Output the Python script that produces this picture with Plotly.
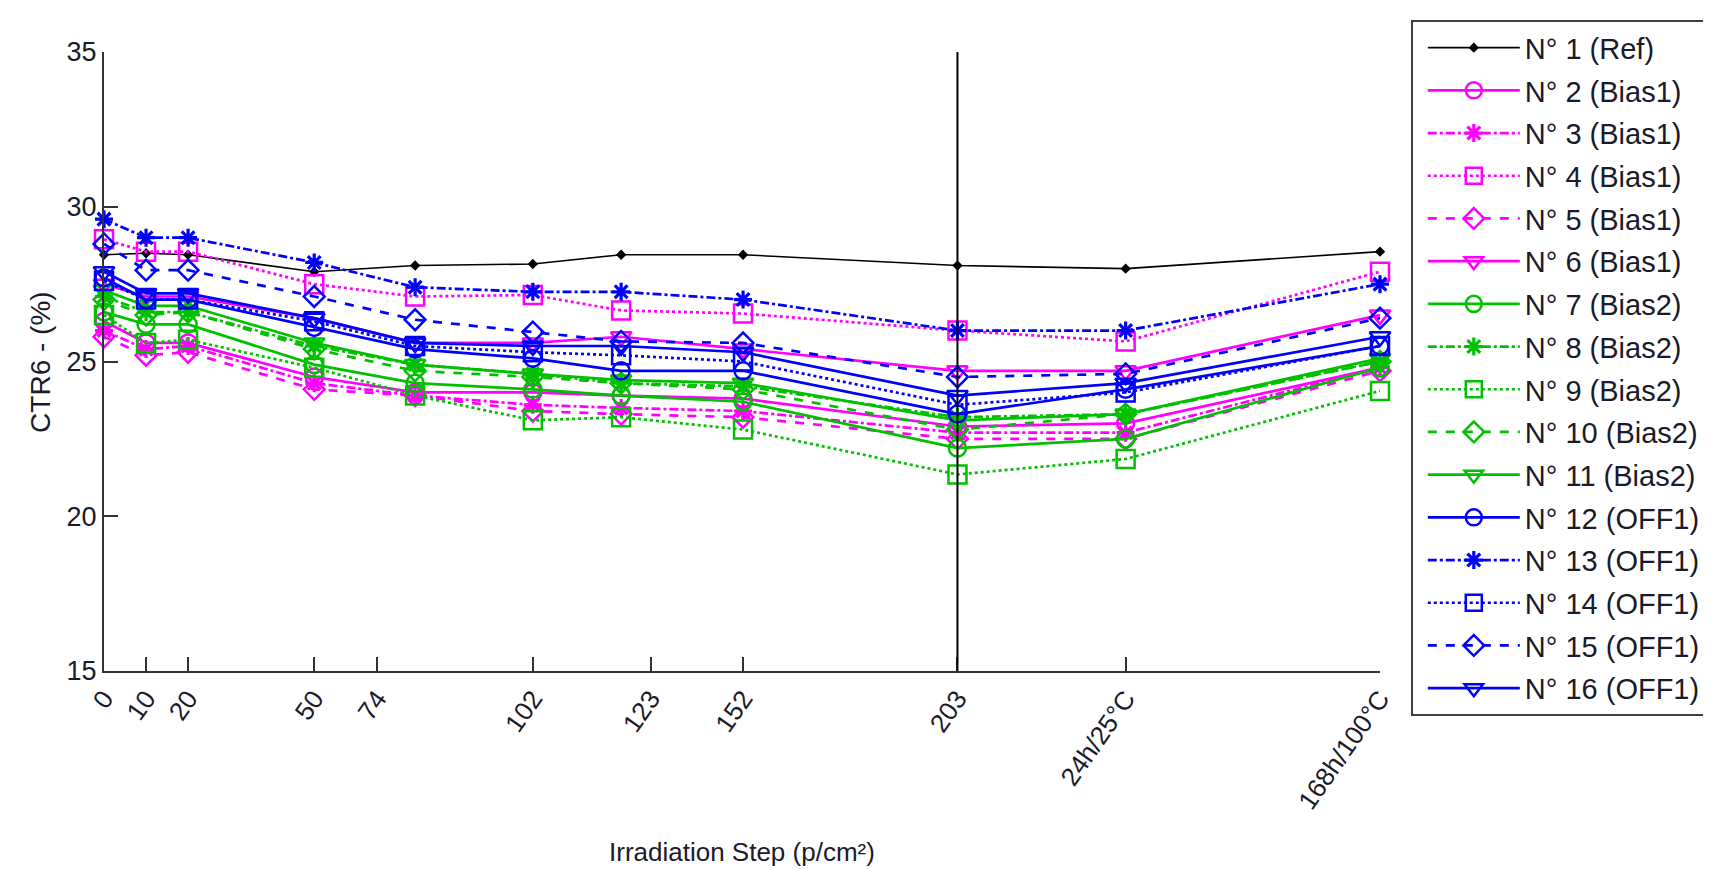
import plotly.graph_objects as go

# ---------------- data ----------------
step_x = [0, 10, 20, 50, 74, 102, 123, 152, 203, 243, 303.5]
tick_positions = [0, 10, 20, 50, 65, 102, 130, 152, 203, 243, 303.5]
tick_labels = ["0", "10", "20", "50", "74", "102", "123", "152", "203", "24h/25°C", "168h/100°C"]
separator_x = 203

names = ["N° 1 (Ref)", "N° 2 (Bias1)", "N° 3 (Bias1)", "N° 4 (Bias1)", "N° 5 (Bias1)",
         "N° 6 (Bias1)", "N° 7 (Bias2)", "N° 8 (Bias2)", "N° 9 (Bias2)", "N° 10 (Bias2)",
         "N° 11 (Bias2)", "N° 12 (OFF1)", "N° 13 (OFF1)", "N° 14 (OFF1)", "N° 15 (OFF1)",
         "N° 16 (OFF1)"]

n01 = [28.45, 28.5, 28.45, 27.9, 28.1, 28.15, 28.45, 28.45, 28.1, 28.0, 28.55]
n02 = [26.3, 25.6, 25.6, 24.5, 24.0, 24.0, 23.9, 23.8, 22.9, 23.0, 24.8]
n03 = [26.0, 25.4, 25.5, 24.3, 23.9, 23.6, 23.5, 23.4, 22.7, 22.7, 24.8]
n04 = [28.95, 28.55, 28.55, 27.5, 27.1, 27.15, 26.65, 26.55, 26.0, 25.65, 27.9]
n05 = [25.8, 25.2, 25.3, 24.1, 23.9, 23.4, 23.3, 23.2, 22.5, 22.5, 24.7]
n06 = [27.5, 27.1, 27.1, 26.4, 25.6, 25.6, 25.8, 25.4, 24.7, 24.7, 26.5]
n07 = [26.6, 26.2, 26.2, 24.9, 24.3, 24.1, 23.9, 23.7, 22.2, 22.5, 24.8]
n08 = [27.1, 26.6, 26.6, 25.5, 24.9, 24.6, 24.3, 24.2, 23.2, 23.3, 25.0]
n09 = [26.5, 25.6, 25.7, 24.8, 23.9, 23.1, 23.2, 22.8, 21.35, 21.85, 24.05]
n10 = [27.0, 26.5, 26.6, 25.4, 24.7, 24.5, 24.3, 24.1, 22.8, 23.3, 25.0]
n11 = [27.3, 26.8, 26.8, 25.6, 24.9, 24.6, 24.4, 24.3, 23.1, 23.3, 25.1]
n12 = [27.7, 27.0, 27.0, 26.1, 25.4, 25.1, 24.7, 24.7, 23.3, 24.1, 25.5]
n13 = [29.6, 29.0, 29.0, 28.2, 27.4, 27.25, 27.25, 27.0, 26.0, 26.0, 27.5]
n14 = [27.6, 27.0, 27.0, 26.3, 25.5, 25.3, 25.2, 25.0, 23.6, 24.0, 25.5]
n15 = [28.8, 27.95, 27.95, 27.1, 26.35, 25.95, 25.65, 25.6, 24.5, 24.6, 26.4]
n16 = [27.9, 27.2, 27.2, 26.4, 25.6, 25.5, 25.5, 25.3, 23.9, 24.3, 25.8]

series = [n01, n02, n03, n04, n05, n06, n07, n08, n09, n10, n11, n12, n13, n14, n15, n16]

# ---------------- styles ----------------
MAGENTA = "#FF00FF"
GREEN = "#00C000"
BLUE = "#0000FF"
group_colors = [MAGENTA, GREEN, BLUE]
pattern_dash = ["solid", "dashdot", "dot", "dash", "solid"]
pattern_symbol = ["circle-open", "asterisk-open", "square-open", "diamond-open", "triangle-down-open"]
pattern_size = [17, 15, 18, 16, 18]

FONT = "Liberation Sans, Arial, sans-serif"
TXT = "#1a1a2a"

fig = go.Figure()

for i, (name, vals) in enumerate(zip(names, series)):
    if i == 0:
        line = dict(color="black", width=1.6, dash="solid")
        marker = dict(symbol="diamond", size=8, color="black")
    else:
        g = (i - 1) // 5
        k = (i - 1) % 5
        col = group_colors[g]
        line = dict(color=col, width=2.7, dash=pattern_dash[k])
        sym = pattern_symbol[k]
        marker = dict(symbol=sym, size=pattern_size[k], color=col,
                      line=dict(color=col, width=3.2 if sym == "asterisk-open" else 2.5))
    fig.add_trace(go.Scatter(
        x=step_x, y=vals, name=name, mode="lines+markers",
        line=line, marker=marker, cliponaxis=False, legendgroup=name,
    ))

fig.add_shape(type="line", x0=separator_x, x1=separator_x, xref="x",
              y0=0, y1=1, yref="paper", line=dict(color="black", width=2), layer="above")

fig.update_layout(
    width=1711, height=869,
    margin=dict(l=96, r=331, t=38, b=206),
    paper_bgcolor="white", plot_bgcolor="white",
    font=dict(family=FONT, color=TXT, size=26),
    showlegend=True,
    legend=dict(
        x=(1411 - 96) / 1284, xanchor="left",
        y=(663 - 6) / 625, yanchor="top",
        bordercolor="#404040", borderwidth=2, bgcolor="white",
        font=dict(family=FONT, size=29, color=TXT),
        itemwidth=92, tracegroupgap=2, traceorder="grouped",
        indentation=10, maxheight=900,
    ),
)

fig.update_xaxes(
    range=[0, 303.5], showgrid=False, zeroline=False,
    showline=True, linecolor="#333333", linewidth=2, mirror=False,
    ticks="inside", ticklen=14, tickwidth=1.8, tickcolor="#333333",
    tickmode="array", tickvals=tick_positions, ticktext=tick_labels,
    tickangle=-55, tickfont=dict(family=FONT, size=26, color=TXT),
)
fig.update_yaxes(
    range=[15, 35], showgrid=False, zeroline=False,
    showline=True, linecolor="#333333", linewidth=2, mirror=False,
    ticks="inside", ticklen=14, tickwidth=1.8, tickcolor="#333333",
    tickvals=[15, 20, 25, 30, 35], tickfont=dict(family=FONT, size=27, color=TXT),
)

fig.add_annotation(text="Irradiation Step (p/cm²)", xref="paper", yref="paper",
                   x=0.5, y=(663 - 846) / 625, xanchor="center", yanchor="middle",
                   showarrow=False, font=dict(family=FONT, size=26, color=TXT))
fig.add_annotation(text="CTR6 - (%)", xref="paper", yref="paper",
                   x=(32 - 96) / 1284, y=0.5, xanchor="center", yanchor="middle",
                   textangle=-90, showarrow=False, font=dict(family=FONT, size=28, color=TXT))

fig.write_html("out.html")
